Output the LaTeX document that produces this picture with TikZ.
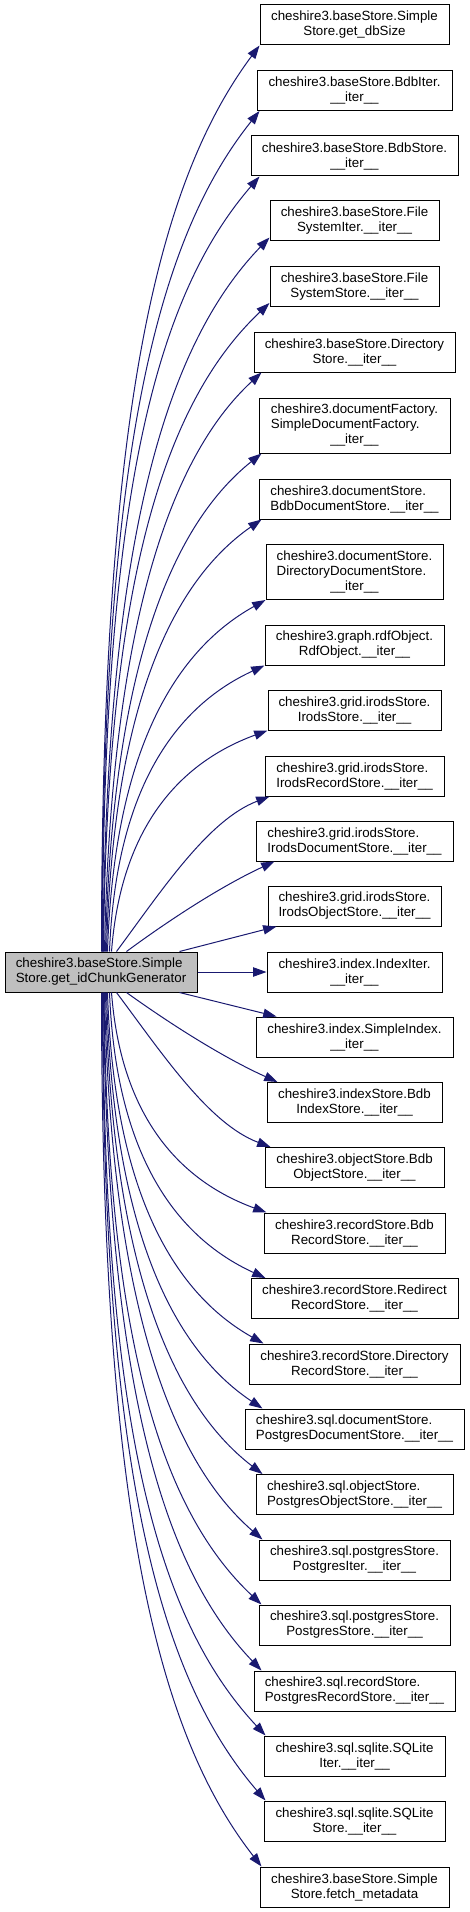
\documentclass[tikz,border=0pt]{standalone}
\usepackage{fontspec}
\setmainfont{Liberation Sans}
\usetikzlibrary{calc,arrows.meta}
\definecolor{edgeblue}{HTML}{191970}
\definecolor{mainfill}{HTML}{BFBFBF}
\tikzset{
  box/.style={draw=black, line width=0.75pt, rectangle, inner sep=2pt,
    font=\fontsize{10pt}{11.25pt}\selectfont, minimum height=30pt, align=center},
  bw/.style={minimum width=#1*0.75pt},
  tall/.style={minimum height=41.25pt},
  edge/.style={draw=edgeblue, line width=0.75pt, -{Triangle[length=10pt,width=7pt]}}
}
\newcommand\cedge[6]{%
  \draw[edge] let \p1=(#1), \p2=(#2) in (\p1) .. controls
    ({\x1+#3*(\x2-\x1)},{\y1+#4*(\y2-\y1)}) and
    ({\x1+#5*(\x2-\x1)},{\y1+#6*(\y2-\y1)}) .. (\p2);}
\begin{document}
\begin{tikzpicture}[x=0.75pt,y=-0.75pt]
\useasboundingbox (0,0) rectangle (469,1912);
\node[box,bw=192,fill=mainfill,align=left] (main) at (101,972) {cheshire3.baseStore.Simple\\Store.get\_idChunkGenerator};

\node[box,bw=189] (b1) at (354.5,25) {cheshire3.baseStore.Simple\\Store.get\_dbSize};
\node[box,bw=195] (b2) at (354.5,90.5) {cheshire3.baseStore.BdbIter.\\\_\_iter\_\_};
\node[box,bw=207] (b3) at (354.5,156) {cheshire3.baseStore.BdbStore.\\\_\_iter\_\_};
\node[box,bw=169] (b4) at (354.5,221) {cheshire3.baseStore.File\\SystemIter.\_\_iter\_\_};
\node[box,bw=169] (b5) at (354.5,286.5) {cheshire3.baseStore.File\\SystemStore.\_\_iter\_\_};
\node[box,bw=201] (b6) at (354.5,352) {cheshire3.baseStore.Directory\\Store.\_\_iter\_\_};
\node[box,bw=191,tall] (b7) at (354.5,425.5) {\begin{tabular}{@{}l@{}}cheshire3.documentFactory.\\SimpleDocumentFactory.\\\multicolumn{1}{@{}c@{}}{\_\_iter\_\_}\end{tabular}};
\node[box,bw=191,align=left] (b8) at (354.5,499) {cheshire3.documentStore.\\BdbDocumentStore.\_\_iter\_\_};
\node[box,bw=177,tall] (b9) at (354.5,572) {\begin{tabular}{@{}l@{}}cheshire3.documentStore.\\DirectoryDocumentStore.\\\multicolumn{1}{@{}c@{}}{\_\_iter\_\_}\end{tabular}};
\node[box,bw=179] (b10) at (354.5,645) {cheshire3.graph.rdfObject.\\RdfObject.\_\_iter\_\_};
\node[box,bw=173] (b11) at (354.5,710) {cheshire3.grid.irodsStore.\\IrodsStore.\_\_iter\_\_};
\node[box,bw=179,align=left] (b12) at (354.5,776) {cheshire3.grid.irodsStore.\\IrodsRecordStore.\_\_iter\_\_};
\node[box,bw=197,align=left] (b13) at (354.5,841) {cheshire3.grid.irodsStore.\\IrodsDocumentStore.\_\_iter\_\_};
\node[box,bw=173,align=left] (b14) at (354.5,906) {cheshire3.grid.irodsStore.\\IrodsObjectStore.\_\_iter\_\_};
\node[box,bw=175] (b15) at (354.5,972) {cheshire3.index.IndexIter.\\\_\_iter\_\_};
\node[box,bw=197] (b16) at (354.5,1037) {cheshire3.index.SimpleIndex.\\\_\_iter\_\_};
\node[box,bw=175] (b17) at (354.5,1102.5) {cheshire3.indexStore.Bdb\\IndexStore.\_\_iter\_\_};
\node[box,bw=179] (b18) at (354.5,1167.5) {cheshire3.objectStore.Bdb\\ObjectStore.\_\_iter\_\_};
\node[box,bw=181] (b19) at (354.5,1233) {cheshire3.recordStore.Bdb\\RecordStore.\_\_iter\_\_};
\node[box,bw=207] (b20) at (354.5,1298.5) {cheshire3.recordStore.Redirect\\RecordStore.\_\_iter\_\_};
\node[box,bw=211] (b21) at (354.5,1364) {cheshire3.recordStore.Directory\\RecordStore.\_\_iter\_\_};
\node[box,bw=219,align=left] (b22) at (354.5,1429) {cheshire3.sql.documentStore.\\PostgresDocumentStore.\_\_iter\_\_};
\node[box,bw=197,align=left] (b23) at (354.5,1494.5) {cheshire3.sql.objectStore.\\PostgresObjectStore.\_\_iter\_\_};
\node[box,bw=191] (b24) at (354.5,1560) {cheshire3.sql.postgresStore.\\PostgresIter.\_\_iter\_\_};
\node[box,bw=191] (b25) at (354.5,1625) {cheshire3.sql.postgresStore.\\PostgresStore.\_\_iter\_\_};
\node[box,bw=201,align=left] (b26) at (354.5,1691) {cheshire3.sql.recordStore.\\PostgresRecordStore.\_\_iter\_\_};
\node[box,bw=181] (b27) at (354.5,1756) {cheshire3.sql.sqlite.SQLite\\Iter.\_\_iter\_\_};
\node[box,bw=181] (b28) at (354.5,1821) {cheshire3.sql.sqlite.SQLite\\Store.\_\_iter\_\_};
\node[box,bw=189] (b29) at (354.5,1887) {cheshire3.baseStore.Simple\\Store.fetch\_metadata};

% upper edges
\cedge{$(main.north west)+(97,0)$}{$(b1.south west)+(0,0)$}{0}{0.6}{0.36}{0.85}
\cedge{$(main.north west)+(97.5,0)$}{$(b2.south west)+(3,0)$}{0}{0.6}{0.36}{0.85}
\cedge{$(main.north west)+(98,0)$}{$(b3.south west)+(9,0)$}{0}{0.6}{0.36}{0.85}
\cedge{$(main.north west)+(98.5,0)$}{$(b4.south west)+(0,-4)$}{0.02}{0.58}{0.38}{0.85}
\cedge{$(main.north west)+(99,0)$}{$(b5.south west)+(0,-4)$}{0.02}{0.58}{0.38}{0.85}
\cedge{$(main.north west)+(100,0)$}{$(b6.south west)+(8,0)$}{0.04}{0.55}{0.4}{0.85}
\cedge{$(main.north west)+(101,0)$}{$(b7.south west)+(3,0)$}{0.04}{0.55}{0.4}{0.85}
\cedge{$(main.north west)+(102,0)$}{$(b8.south west)+(3,0)$}{0.04}{0.55}{0.4}{0.85}
\cedge{$(main.north west)+(103,0)$}{$(b9.south west)+(0,0)$}{0.04}{0.55}{0.4}{0.85}
\cedge{$(main.north west)+(105,0)$}{$(b10.south west)+(0,0)$}{0.04}{0.55}{0.4}{0.85}
\cedge{$(main.north west)+(107,0)$}{$(b11.south west)+(0,0)$}{0.06}{0.55}{0.42}{0.85}
\cedge{$(main.north west)+(112,0)$}{$(b12.south west)+(5,0)$}{0.3}{0.4}{0.6}{0.85}
\cedge{$(main.north west)+(122,0)$}{$(b13.south west)+(19,0)$}{0.33}{0.4}{0.67}{0.75}
\draw[edge] ($(main.north west)+(175,0)$) -- ($(b14.south west)+(9,0)$);
\draw[edge] (main.east) -- (b15.west);
% lower edges
\draw[edge] ($(main.south west)+(175,0)$) -- ($(b16.north west)+(21,0)$);
\cedge{$(main.south west)+(122,0)$}{$(b17.north west)+(11,0)$}{0.33}{0.4}{0.67}{0.75}
\cedge{$(main.south west)+(112,0)$}{$(b18.north west)+(6,0)$}{0.3}{0.4}{0.6}{0.85}
\cedge{$(main.south west)+(107,0)$}{$(b19.north west)+(3,0)$}{0.06}{0.55}{0.42}{0.85}
\cedge{$(main.south west)+(105,0)$}{$(b20.north west)+(15,0)$}{0.04}{0.55}{0.4}{0.85}
\cedge{$(main.south west)+(103,0)$}{$(b21.north west)+(15,0)$}{0.04}{0.55}{0.4}{0.85}
\cedge{$(main.south west)+(102,0)$}{$(b22.north west)+(18,0)$}{0.04}{0.55}{0.4}{0.85}
\cedge{$(main.south west)+(101,0)$}{$(b23.north west)+(7,0)$}{0.04}{0.55}{0.4}{0.85}
\cedge{$(main.south west)+(100,0)$}{$(b24.north west)+(4,0)$}{0.04}{0.55}{0.4}{0.85}
\cedge{$(main.south west)+(99.5,0)$}{$(b25.north west)+(3,0)$}{0.02}{0.58}{0.38}{0.85}
\cedge{$(main.south west)+(99,0)$}{$(b26.north west)+(8,0)$}{0.02}{0.58}{0.38}{0.85}
\cedge{$(main.south west)+(98.5,0)$}{$(b27.north west)+(2,0)$}{0}{0.6}{0.36}{0.85}
\cedge{$(main.south west)+(98,0)$}{$(b28.north west)+(2,0)$}{0}{0.6}{0.36}{0.85}
\cedge{$(main.south west)+(97,0)$}{$(b29.north west)+(2,0)$}{0}{0.6}{0.36}{0.85}
\end{tikzpicture}
\end{document}
